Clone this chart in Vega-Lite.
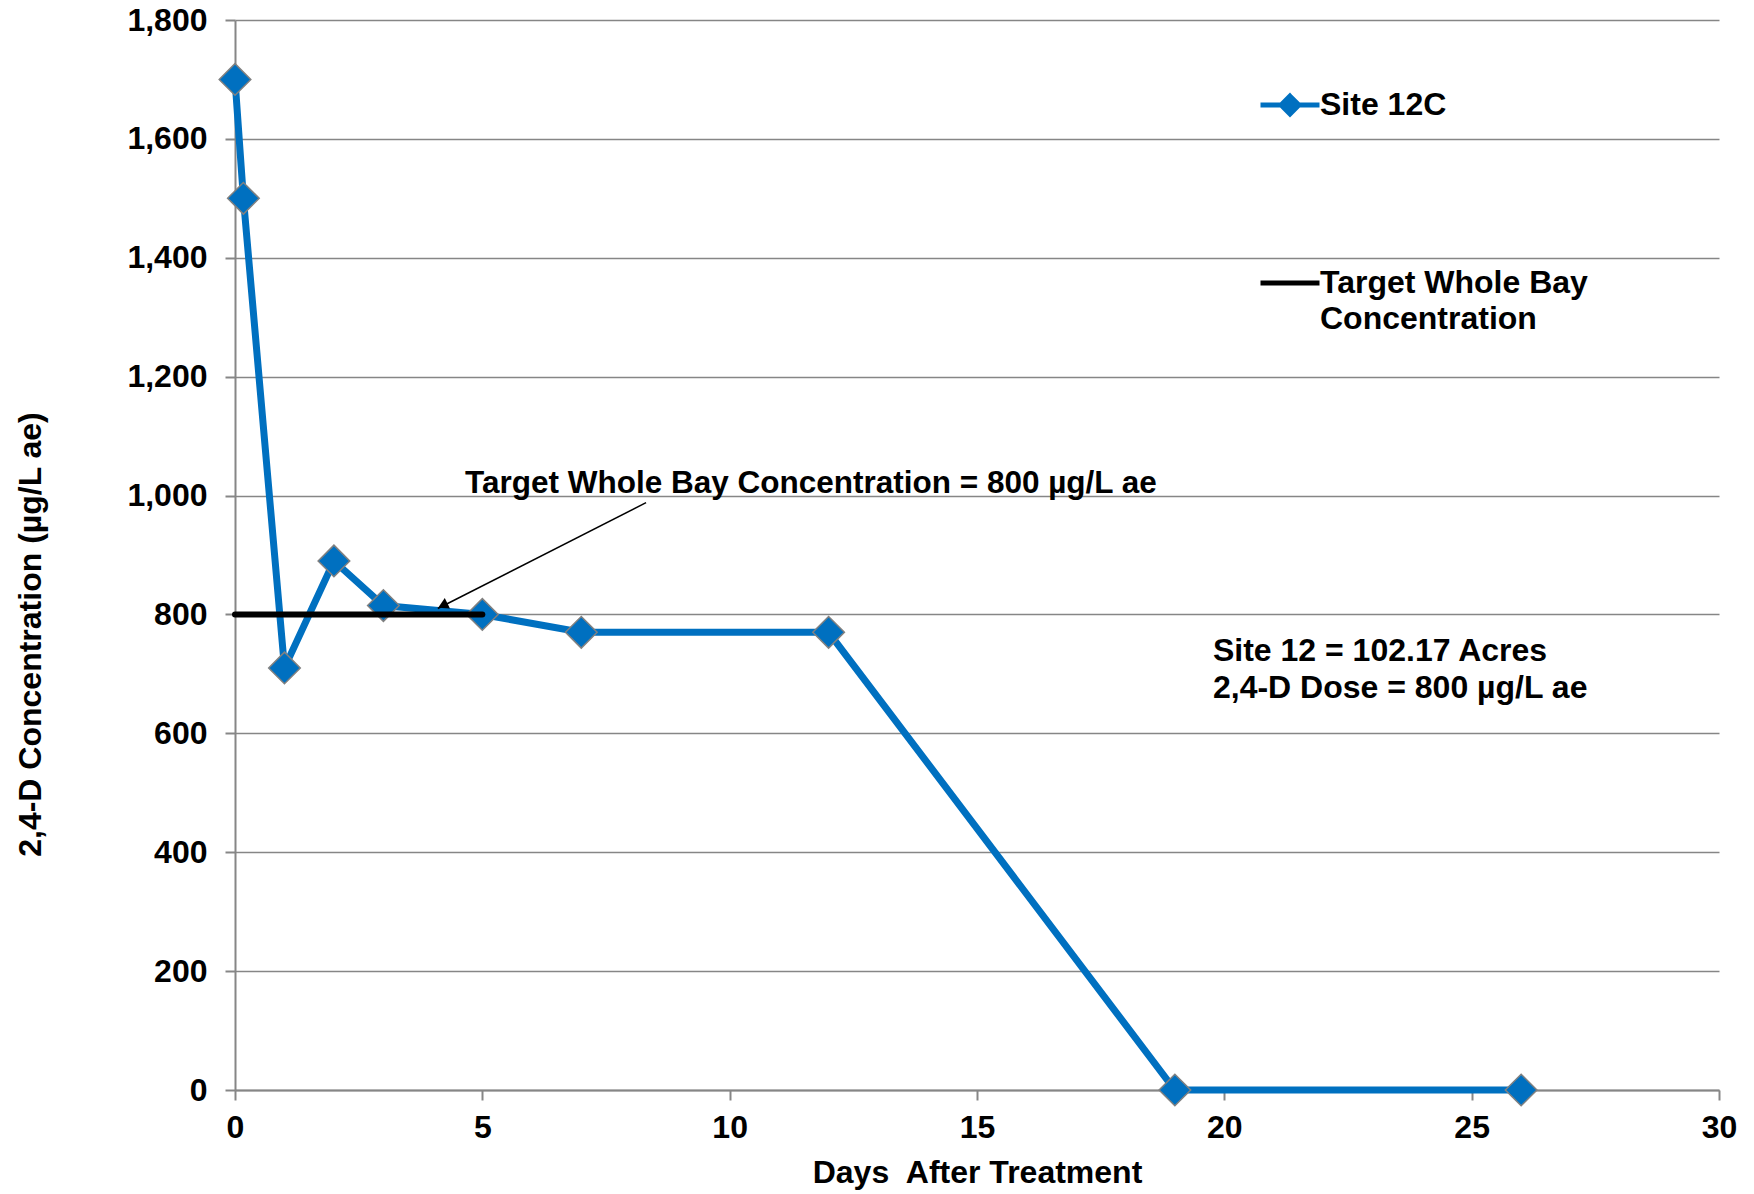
{
  "$schema": "https://vega.github.io/schema/vega-lite/v6.json",
  "width": 1484,
  "height": 1070,
  "autosize": {"type": "none"},
  "padding": {"left": 235, "top": 20, "right": 35, "bottom": 104},
  "background": "white",
  "config": {
    "view": {"stroke": null},
    "font": "Liberation Sans",
    "axis": {
      "labelFont": "Liberation Sans",
      "labelFontSize": 32,
      "labelFontWeight": "bold",
      "labelColor": "black",
      "labelFlush": false,
      "labelOverlap": false,
      "titleFont": "Liberation Sans",
      "titleFontSize": 32,
      "titleFontWeight": "bold",
      "titleColor": "black",
      "domainColor": "#868686",
      "domainWidth": 2,
      "tickColor": "#868686",
      "tickWidth": 2,
      "tickSize": 10,
      "gridColor": "#868686",
      "gridWidth": 1.5
    }
  },
  "datasets": {
    "site": [
      {"day": 0, "conc": 1700, "series": "Site 12C"},
      {"day": 0.17, "conc": 1500, "series": "Site 12C"},
      {"day": 1, "conc": 710, "series": "Site 12C"},
      {"day": 2, "conc": 890, "series": "Site 12C"},
      {"day": 3, "conc": 815, "series": "Site 12C"},
      {"day": 5, "conc": 800, "series": "Site 12C"},
      {"day": 7, "conc": 770, "series": "Site 12C"},
      {"day": 12, "conc": 770, "series": "Site 12C"},
      {"day": 19, "conc": 0, "series": "Site 12C"},
      {"day": 26, "conc": 0, "series": "Site 12C"}
    ],
    "target": [
      {"day": 0, "conc": 800, "series": "Target Whole Bay Concentration"},
      {"day": 5, "conc": 800, "series": "Target Whole Bay Concentration"}
    ],
    "arrow": [
      {"day": 8.31, "conc": 988, "day2": 4.1, "conc2": 810}
    ],
    "arrowhead": [
      {"day": 4.2, "conc": 815}
    ],
    "notes": [
      {"day": 4.65, "conc": 1019, "label": "Target Whole Bay Concentration = 800 µg/L ae", "size": 31.5},
      {"day": 19.77, "conc": 739, "label": "Site 12 = 102.17 Acres", "size": 32},
      {"day": 19.77, "conc": 676, "label": "2,4-D Dose = 800 µg/L ae", "size": 32}
    ]
  },
  "layer": [
    {
      "data": {"name": "site"},
      "mark": {"type": "line", "strokeWidth": 7},
      "encoding": {
        "x": {
          "field": "day", "type": "quantitative",
          "scale": {"domain": [0, 30], "nice": false, "zero": false},
          "axis": {
            "values": [0, 5, 10, 15, 20, 25, 30],
            "grid": false,
            "labelPadding": 12,
            "title": "Days\u00a0 After Treatment",
            "titleX": 742,
            "titleY": 82,
            "titleBaseline": "middle"
          }
        },
        "y": {
          "field": "conc", "type": "quantitative",
          "scale": {"domain": [0, 1800], "nice": false},
          "axis": {
            "values": [0, 200, 400, 600, 800, 1000, 1200, 1400, 1600, 1800],
            "format": ",d",
            "grid": true,
            "labelPadding": 18,
            "title": "2,4-D Concentration (µg/L ae)",
            "titleX": -205,
            "titleY": 614,
            "titleAngle": 270,
            "titleAlign": "center",
            "titleBaseline": "middle"
          }
        },
        "color": {
          "field": "series", "type": "nominal",
          "scale": {
            "domain": ["Site 12C", "Target Whole Bay Concentration"],
            "range": ["#0070C0", "#000000"]
          },
          "legend": {
            "title": null,
            "orient": "none",
            "legendX": 1023,
            "legendY": 53,
            "padding": 0,
            "symbolType": "stroke",
            "symbolSize": 3481,
            "symbolStrokeWidth": 5,
            "labelFont": "Liberation Sans",
            "labelFontSize": 32,
            "labelFontWeight": "bold",
            "labelColor": "black",
            "labelLimit": 600,
            "labelOffset": -2,
            "rowPadding": 127,
            "labelExpr": "datum.label == 'Target Whole Bay Concentration' ? ['Target Whole Bay', 'Concentration'] : datum.label",
            "encode": {
              "symbols": {
                "update": {
                  "shape": {"signal": "datum.value == 'Site 12C' ? 'M-1,0H-0.3M0.3,0H1M0,-0.3L0.3,0L0,0.3L-0.3,0Z' : 'M-1,0H1'"},
                  "fill": {"signal": "datum.value == 'Site 12C' ? '#0070C0' : 'transparent'"}
                }
              },
              "labels": {
                "update": {
                  "lineHeight": {"value": 36}
                }
              }
            }
          }
        }
      }
    },
    {
      "data": {"name": "site"},
      "mark": {"type": "point", "shape": "diamond", "filled": true, "fill": "#0070C0", "stroke": "#808080", "strokeWidth": 1.5, "size": 1000, "opacity": 1},
      "encoding": {
        "x": {"field": "day", "type": "quantitative"},
        "y": {"field": "conc", "type": "quantitative"}
      }
    },
    {
      "data": {"name": "target"},
      "mark": {"type": "line", "strokeWidth": 6, "strokeCap": "round"},
      "encoding": {
        "x": {"field": "day", "type": "quantitative"},
        "y": {"field": "conc", "type": "quantitative"},
        "color": {"field": "series", "type": "nominal"}
      }
    },
    {
      "data": {"name": "arrow"},
      "mark": {"type": "rule", "color": "black", "strokeWidth": 1.5},
      "encoding": {
        "x": {"field": "day", "type": "quantitative"},
        "y": {"field": "conc", "type": "quantitative"},
        "x2": {"field": "day2"},
        "y2": {"field": "conc2"}
      }
    },
    {
      "data": {"name": "arrowhead"},
      "mark": {"type": "point", "shape": "triangle-up", "filled": true, "color": "black", "size": 140, "angle": 244, "opacity": 1},
      "encoding": {
        "x": {"field": "day", "type": "quantitative"},
        "y": {"field": "conc", "type": "quantitative"}
      }
    },
    {
      "data": {"name": "notes"},
      "mark": {"type": "text", "align": "left", "baseline": "middle", "font": "Liberation Sans", "fontWeight": "bold", "color": "black"},
      "encoding": {
        "x": {"field": "day", "type": "quantitative"},
        "y": {"field": "conc", "type": "quantitative"},
        "text": {"field": "label"},
        "size": {"field": "size", "type": "quantitative", "scale": null, "legend": null}
      }
    }
  ]
}
